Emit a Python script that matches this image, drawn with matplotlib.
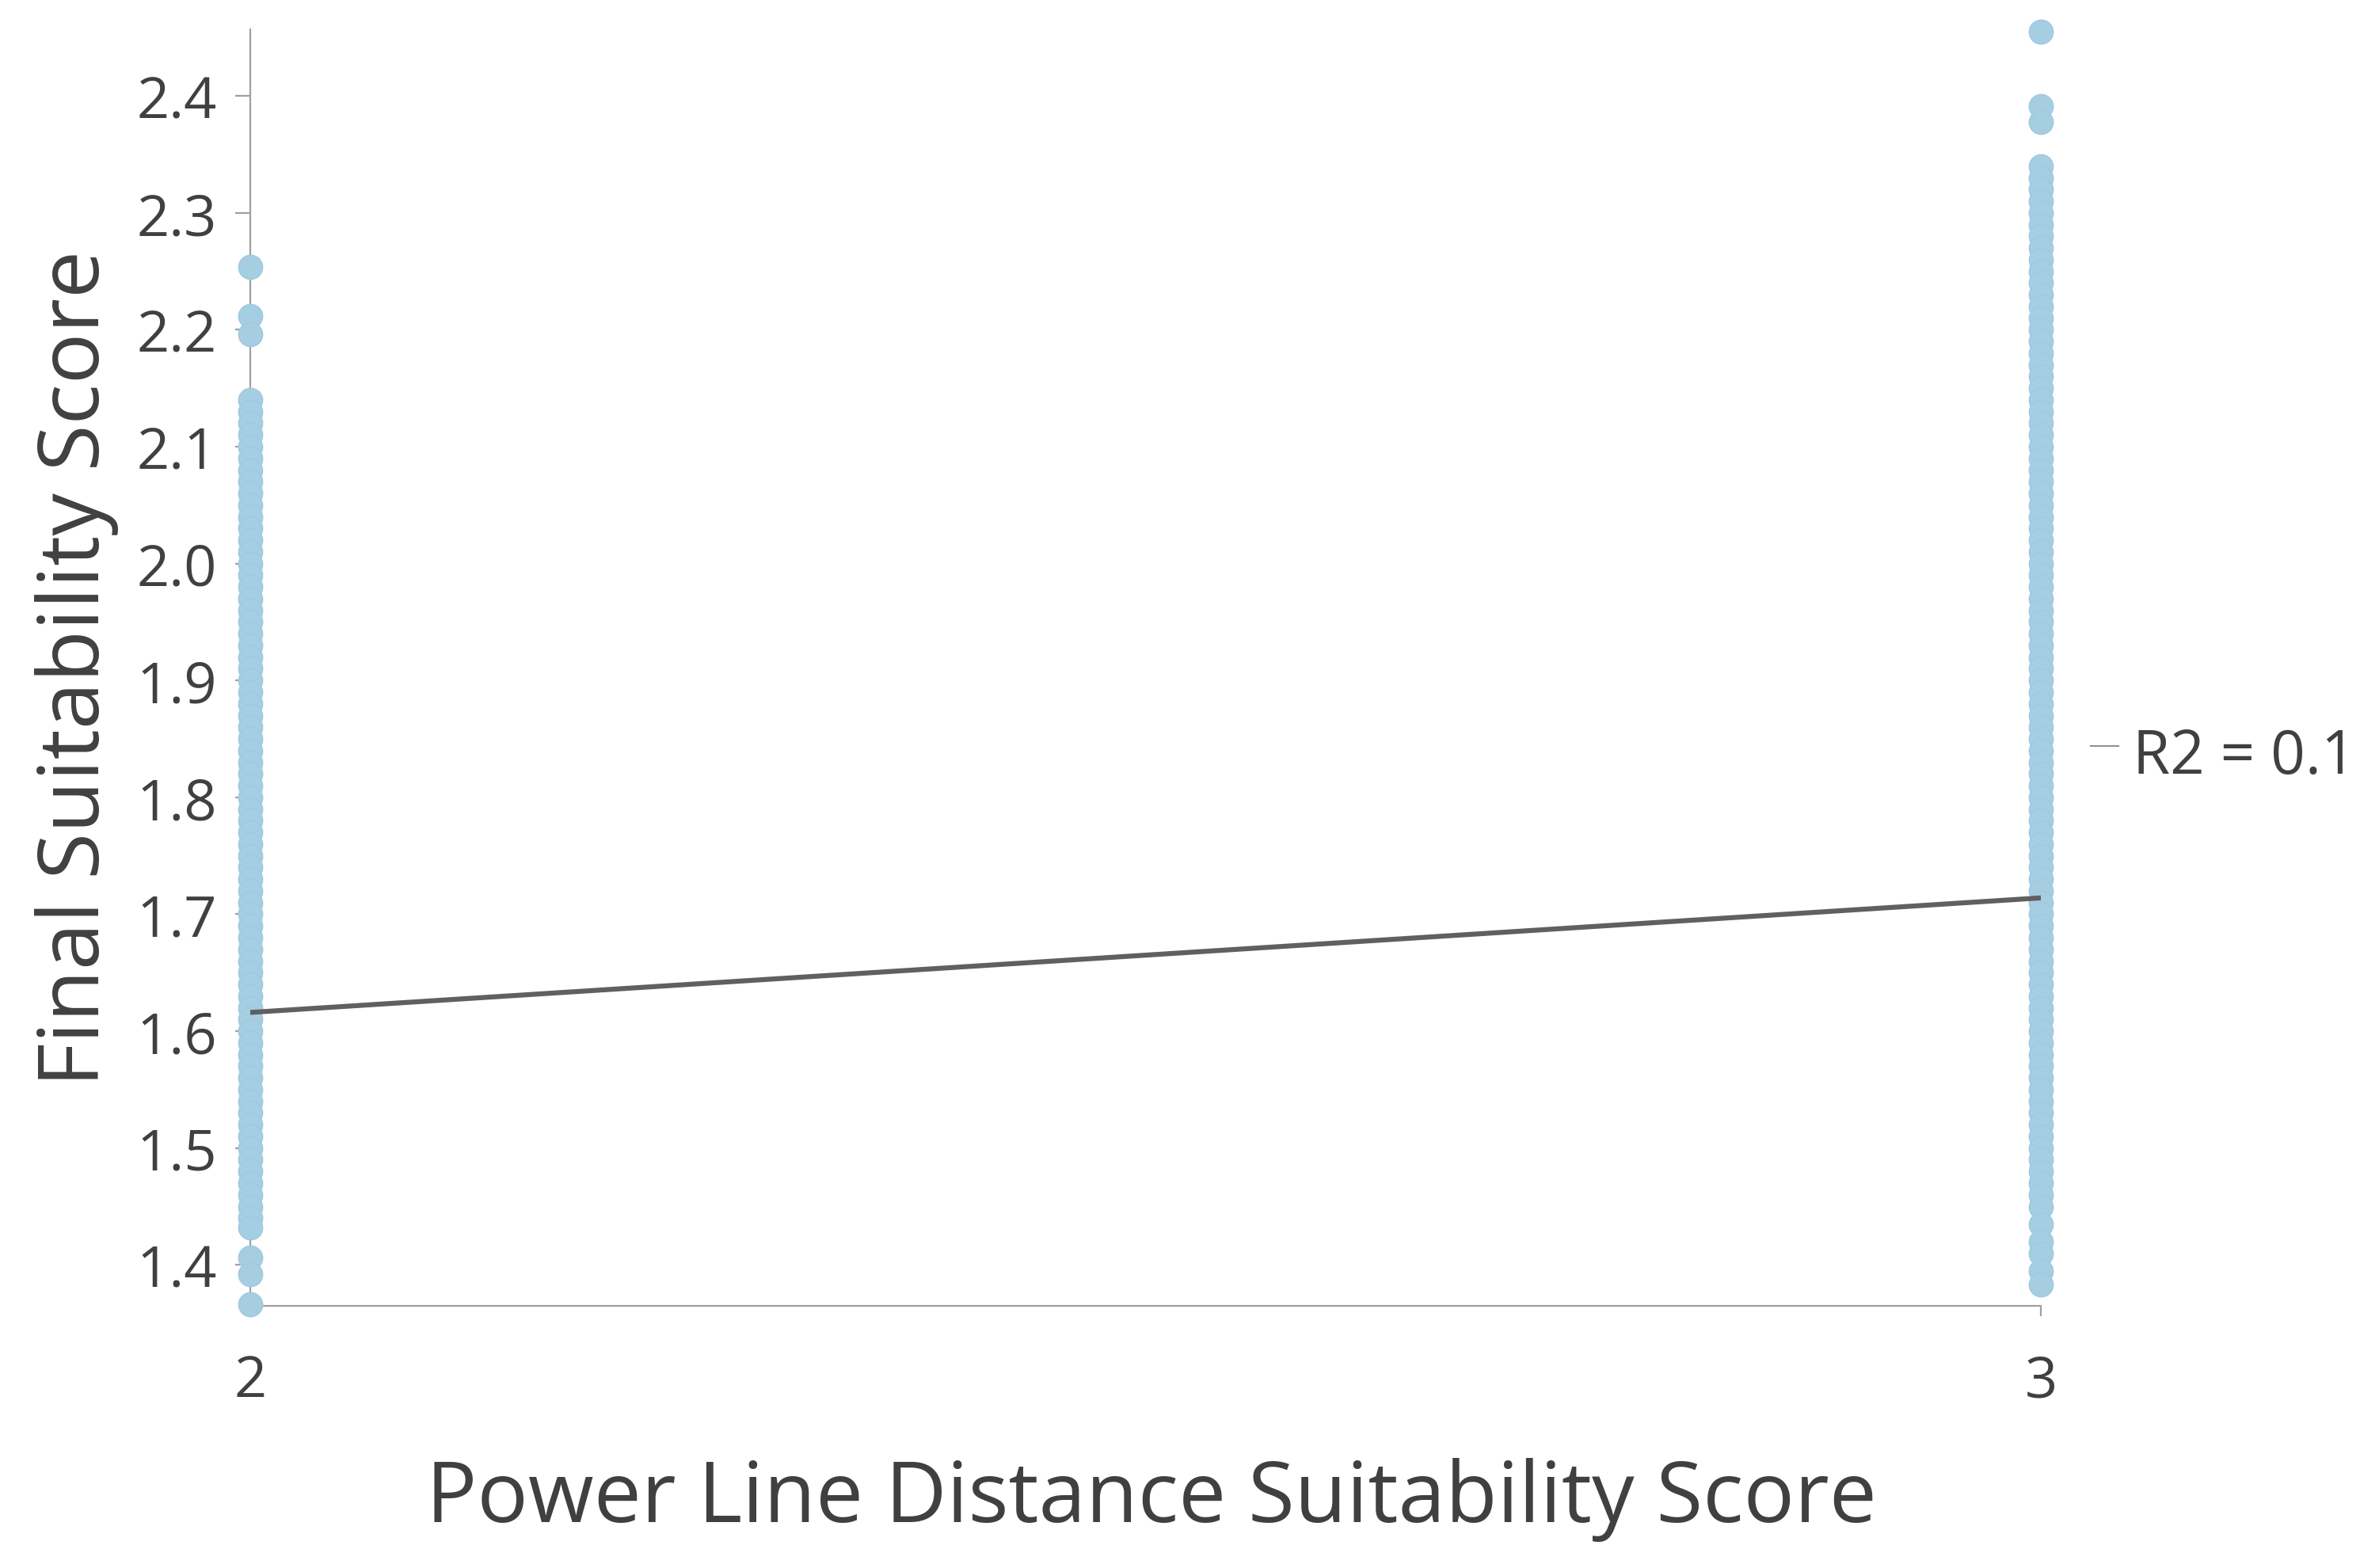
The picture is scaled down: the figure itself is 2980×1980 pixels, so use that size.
import matplotlib
matplotlib.use("Agg")
import matplotlib.pyplot as plt
from matplotlib.lines import Line2D

# Final suitability scores, grouped by power line score
score_2 = [2.254, 2.212, 2.196,
           2.14, 2.13, 2.12, 2.11, 2.10, 2.09, 2.08, 2.07, 2.06, 2.05,
           2.04, 2.03, 2.02, 2.01, 2.00, 1.99, 1.98, 1.97, 1.96, 1.95,
           1.94, 1.93, 1.92, 1.91, 1.90, 1.89, 1.88, 1.87, 1.86, 1.85,
           1.84, 1.83, 1.82, 1.81, 1.80, 1.79, 1.78, 1.77, 1.76, 1.75,
           1.74, 1.73, 1.72, 1.71, 1.70, 1.69, 1.68, 1.67, 1.66, 1.65,
           1.64, 1.63, 1.62, 1.61, 1.60, 1.59, 1.58, 1.57, 1.56, 1.55,
           1.54, 1.53, 1.52, 1.51, 1.50, 1.49, 1.48, 1.47, 1.46, 1.45,
           1.44, 1.432,
           1.406, 1.392, 1.366]
score_3 = [2.455, 2.391, 2.378,
           2.34, 2.33, 2.32, 2.31, 2.30, 2.29, 2.28, 2.27, 2.26, 2.25,
           2.24, 2.23, 2.22, 2.21, 2.20, 2.19, 2.18, 2.17, 2.16, 2.15,
           2.14, 2.13, 2.12, 2.11, 2.10, 2.09, 2.08, 2.07, 2.06, 2.05,
           2.04, 2.03, 2.02, 2.01, 2.00, 1.99, 1.98, 1.97, 1.96, 1.95,
           1.94, 1.93, 1.92, 1.91, 1.90, 1.89, 1.88, 1.87, 1.86, 1.85,
           1.84, 1.83, 1.82, 1.81, 1.80, 1.79, 1.78, 1.77, 1.76, 1.75,
           1.74, 1.73, 1.72, 1.71, 1.70, 1.69, 1.68, 1.67, 1.66, 1.65,
           1.64, 1.63, 1.62, 1.61, 1.60, 1.59, 1.58, 1.57, 1.56, 1.55,
           1.54, 1.53, 1.52, 1.51, 1.50, 1.49, 1.48, 1.47, 1.46, 1.45,
           1.435, 1.42, 1.41, 1.395, 1.383]

# trend line end values as shown
trend_x = [2, 3]
trend_y = [1.616, 1.714]
r2_text = "R2 = 0.1"

x_ticks = [2, 3]
y_ticks = [1.4, 1.5, 1.6, 1.7, 1.8, 1.9, 2.0, 2.1, 2.2, 2.3, 2.4]

plt.rcParams['font.family'] = ['Open Sans', 'DejaVu Sans']
text_col = '#404040'
axis_col = '#a0a0a0'
dot_col = '#a6cee3'

fig = plt.figure(figsize=(29.8, 19.81), dpi=100)
ax = fig.add_axes([0.106, 0.1671, 0.7588, 0.8137])

ax.scatter([2] * len(score_2), score_2, s=480, color=dot_col,
           edgecolor='#9fc9e0', linewidth=1.0, zorder=3, clip_on=False)
ax.scatter([3] * len(score_3), score_3, s=480, color=dot_col,
           edgecolor='#9fc9e0', linewidth=1.0, zorder=3, clip_on=False)
ax.plot(trend_x, trend_y, color='#606060', linewidth=4.5, zorder=4,
        solid_capstyle='butt')

ax.set_xlim(2, 3)
ax.set_ylim(1.365, 2.457)
ax.set_xticks(x_ticks)
ax.set_xticklabels([str(v) for v in x_ticks])
ax.set_yticks(y_ticks)
ax.set_yticklabels([f"{v:.1f}" for v in y_ticks])

for side in ['top', 'right']:
    ax.spines[side].set_visible(False)
for side in ['left', 'bottom']:
    ax.spines[side].set_color(axis_col)
    ax.spines[side].set_linewidth(1.6)
    ax.spines[side].set_zorder(2)

ax.tick_params(axis='y', direction='out', length=14, width=1.6, color=axis_col,
               labelsize=52, labelcolor=text_col, pad=16)
ax.tick_params(axis='x', direction='out', length=9, width=1.6, color=axis_col,
               labelsize=52, labelcolor=text_col, pad=34)
ax.xaxis.get_major_ticks()[0].tick1line.set_visible(False)

fig.text(0.488, 1 - 1922 / 1981, "Power Line Distance Suitability Score",
         fontsize=77, color=text_col, ha='center', va='baseline')
fig.text(125 / 2980, 1 - 844 / 1981, "Final Suitability Score",
         fontsize=77, color=text_col, ha='center', va='baseline',
         rotation=90, rotation_mode='anchor')

# R2 label with its small key dash
fig.add_artist(Line2D([2640 / 2980, 2675 / 2980], [1 - 943 / 1981, 1 - 943 / 1981],
                      color='#909090', linewidth=1.5))
fig.text(2693 / 2980, 1 - 977 / 1981, r2_text, fontsize=55, color=text_col,
         ha='left', va='baseline')

fig.savefig("out.png", dpi=100)
